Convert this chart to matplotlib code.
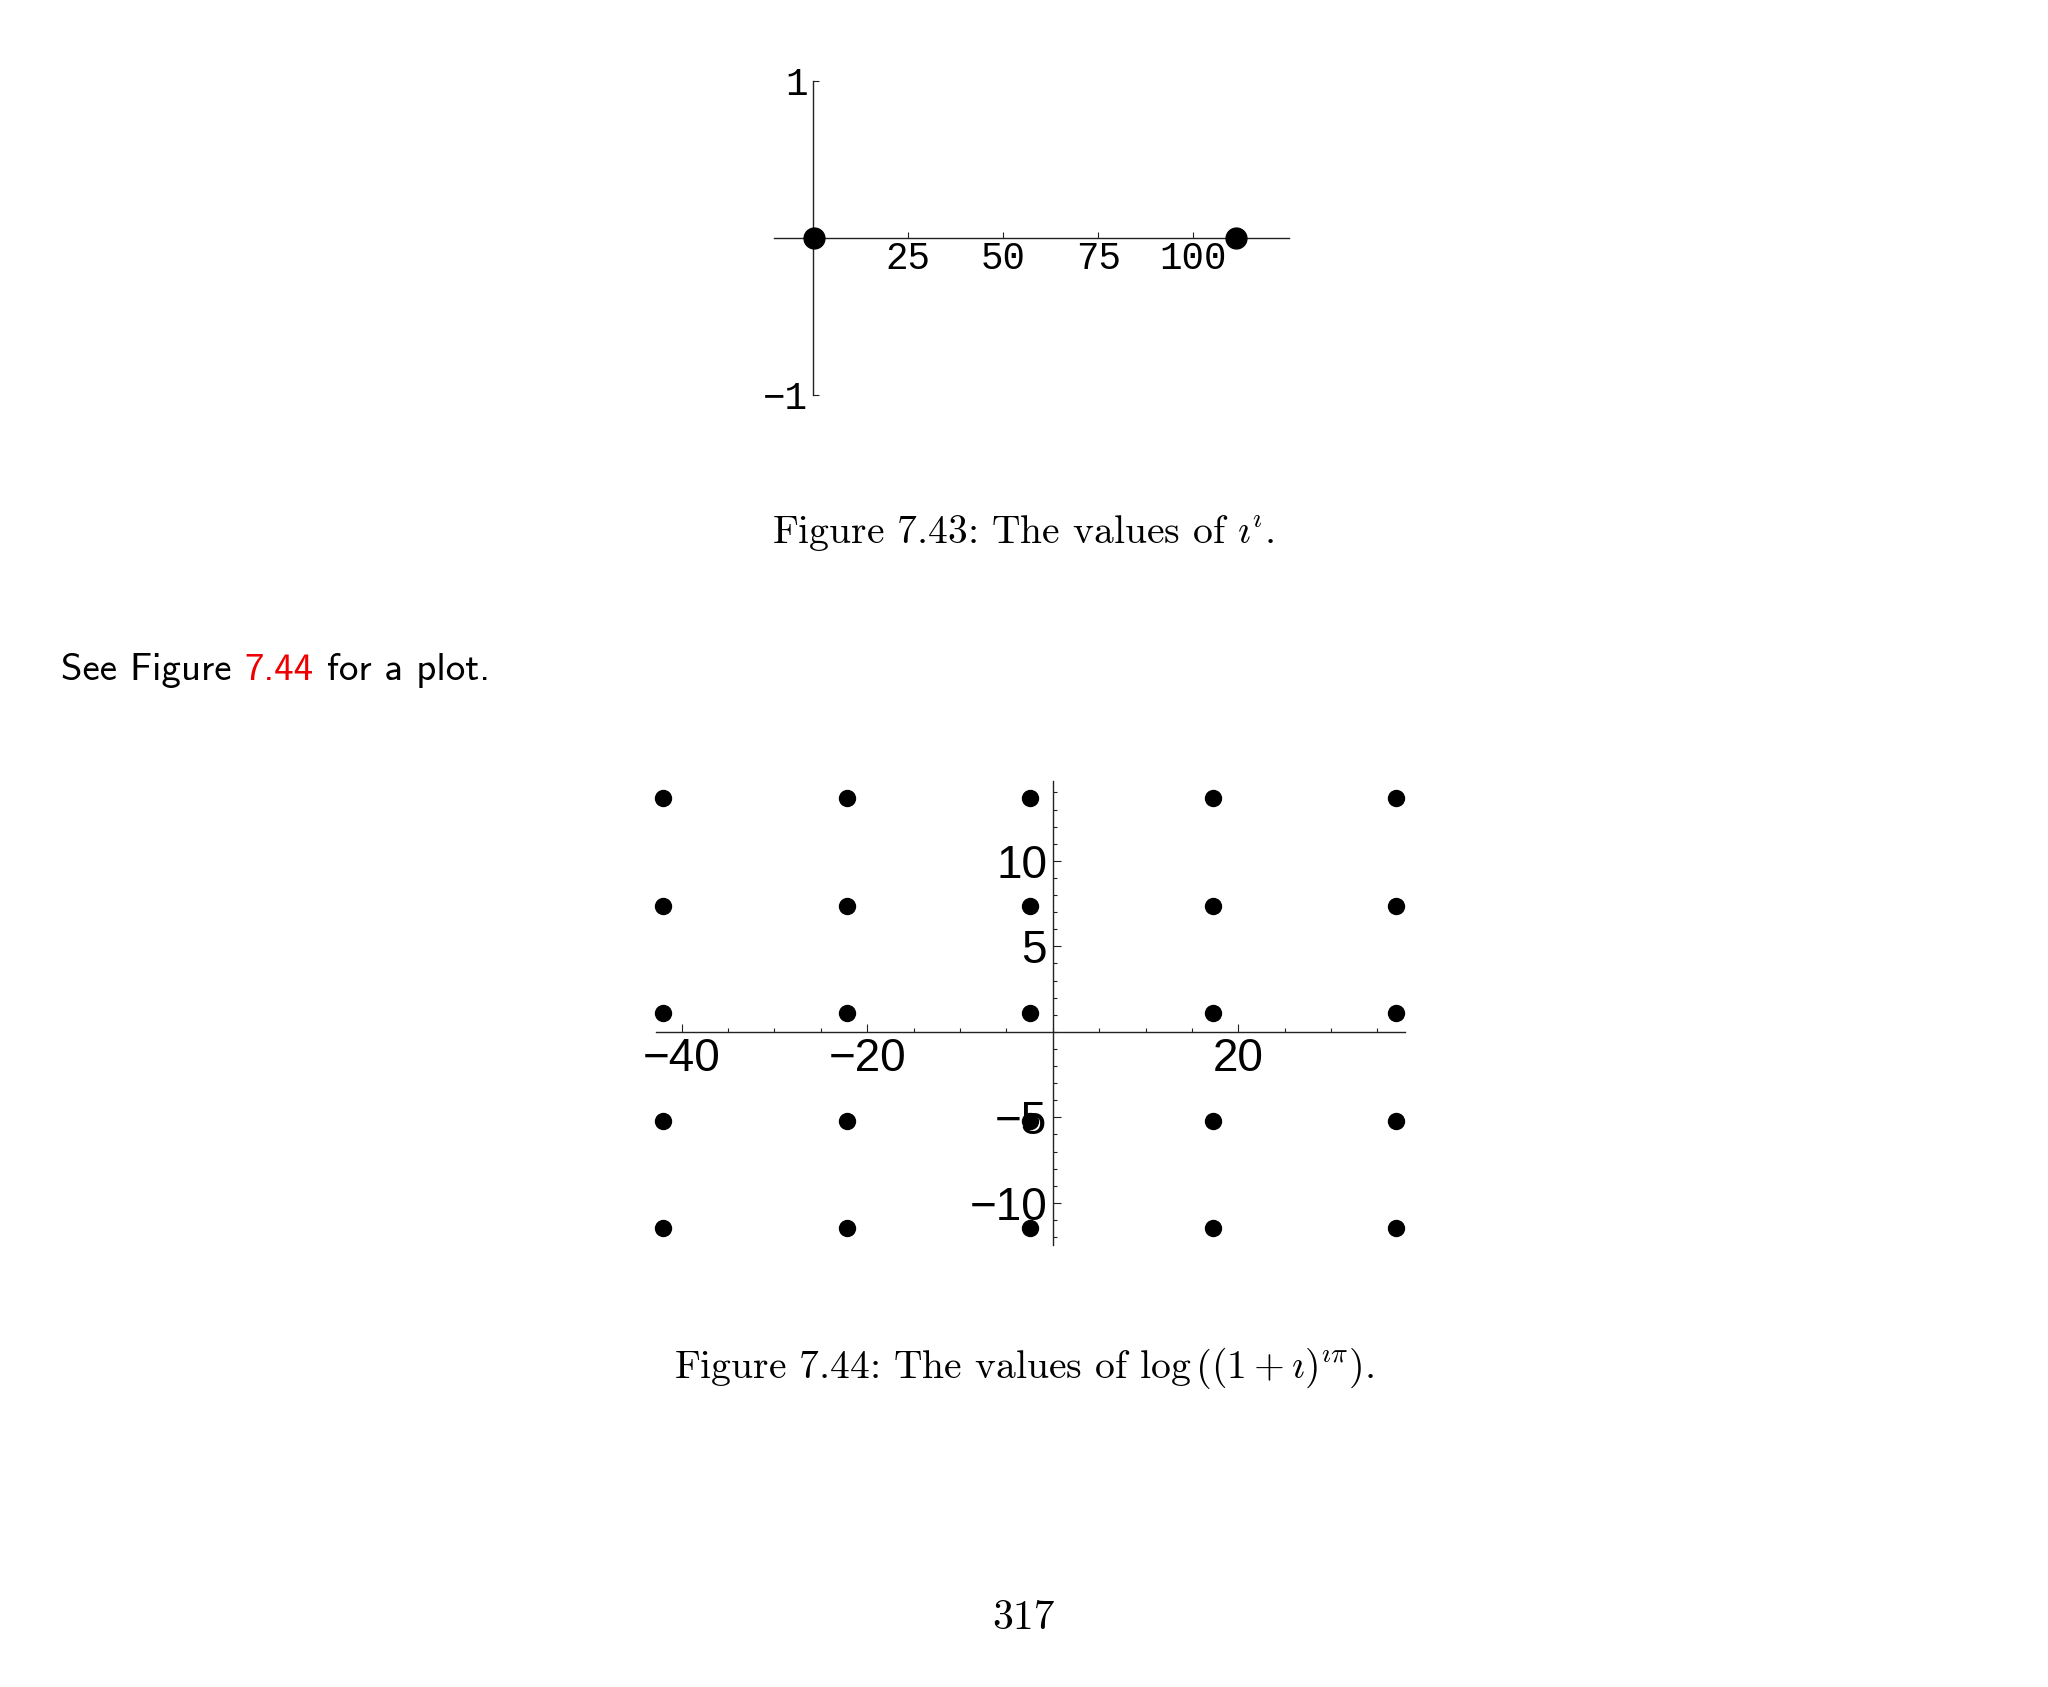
import numpy as np
import matplotlib
matplotlib.use("Agg")
import matplotlib.pyplot as plt
from matplotlib.ticker import MultipleLocator

plt.rcParams['mathtext.fontset'] = 'cm'

W, H = 2048, 1687

# Figure 7.43: values of i^i on the real axis
top_re = [0.2079, 111.318]
top_im = [0.0, 0.0]
top_xticks = [25, 50, 75, 100]
top_xlabels = ['25', '50', '75', '100']
top_yticks = [-1, 1]
top_ylabels = ['\u22121', '1']

# Figure 7.44: values of log((1+i)^(i pi)), a 5 x 5 lattice
bot_re = [-41.95, -22.21, -2.47, 17.27, 37.01]
bot_im = [-11.48, -5.19, 1.09, 7.37, 13.66]
bot_xticks = [-40, -20, 20]
bot_xlabels = ['\u221240', '\u221220', '20']
bot_yticks = [-10, -5, 5, 10]
bot_ylabels = ['\u221210', '\u22125', '5', '10']

fig = plt.figure(figsize=(W / 100, H / 100), dpi=100)


def axis_box(x0, x1, y0, y1):
    # pixel box (top-left origin) -> figure fraction
    return [x0 / W, 1 - y1 / H, (x1 - x0) / W, (y1 - y0) / H]


def cross_axes(ax):
    for s in ['top', 'right']:
        ax.spines[s].set_visible(False)
    ax.spines['left'].set_position(('data', 0))
    ax.spines['bottom'].set_position(('data', 0))
    for s in ['left', 'bottom']:
        ax.spines[s].set_linewidth(1.0)
        ax.spines[s].set_color('#222222')
    ax.patch.set_alpha(0)


# top plot
ax1 = fig.add_axes(axis_box(774, 1289, 81, 395))
ax1.plot(top_re, top_im, 'o', color='black', ms=15, clip_on=False, zorder=5)
ax1.set_xlim(-10.3, 125.2)
ax1.set_ylim(-1, 1)
cross_axes(ax1)
ax1.set_xticks(top_xticks)
ax1.set_xticklabels(top_xlabels)
ax1.set_yticks(top_yticks)
ax1.set_yticklabels(top_ylabels)
ax1.tick_params(direction='in', length=4, width=0.8, labelsize=27,
                labelfontfamily='Liberation Mono', color='#222222')
ax1.tick_params(axis='x', pad=2.5)
ax1.tick_params(axis='y', pad=4)

# bottom plot
ax2 = fig.add_axes(axis_box(655.6, 1405.3, 781, 1244.7))
gx, gy = np.meshgrid(bot_re, bot_im)
ax2.plot(gx.ravel(), gy.ravel(), 'o', color='black', ms=11.5, clip_on=False, zorder=5)
ax2.set_xlim(-42.8, 38.0)
ax2.set_ylim(-12.45, 14.67)
cross_axes(ax2)
ax2.set_xticks(bot_xticks)
ax2.set_xticklabels(bot_xlabels)
ax2.set_yticks(bot_yticks)
ax2.set_yticklabels(bot_ylabels)
ax2.xaxis.set_minor_locator(MultipleLocator(5))
ax2.yaxis.set_minor_locator(MultipleLocator(1))
ax2.tick_params(which='both', direction='in', width=0.8, color='#222222')
ax2.tick_params(which='major', length=6, labelsize=33,
                labelfontfamily='Liberation Sans')
ax2.tick_params(which='minor', length=3)
ax2.tick_params(axis='x', pad=3.5)
ax2.tick_params(axis='y', pad=4)

# page text
fig.text(0.4995, 1 - 543 / H, r'Figure 7.43: The values of $\imath^{\imath}$.',
         family='cmr10', fontsize=28.5, ha='center', va='baseline')
fig.text(0.5, 1 - 1378 / H,
         r'Figure 7.44: The values of $\log\left((1+\imath)^{\imath\pi}\right)$.',
         family='cmr10', fontsize=28.5, ha='center', va='baseline')
fig.text(0.5, 1 - 1629 / H, '317', family='cmr10', fontsize=30,
         ha='center', va='baseline')

# sentence with the red cross-reference, pieces chained left to right
first = fig.text(61 / W, 1 - 680 / H, 'See Figure ', family='cmss10',
                 fontsize=28, va='baseline')
red = ax2.annotate('7.44', xy=(1, 0), xycoords=first, va='bottom', ha='left',
                   family='cmss10', fontsize=28, color='#ee0000',
                   annotation_clip=False)
ax2.annotate(' for a plot.', xy=(1, 0), xycoords=red, va='bottom', ha='left',
             family='cmss10', fontsize=28, color='black',
             annotation_clip=False)

fig.savefig('out.png', dpi=100)
